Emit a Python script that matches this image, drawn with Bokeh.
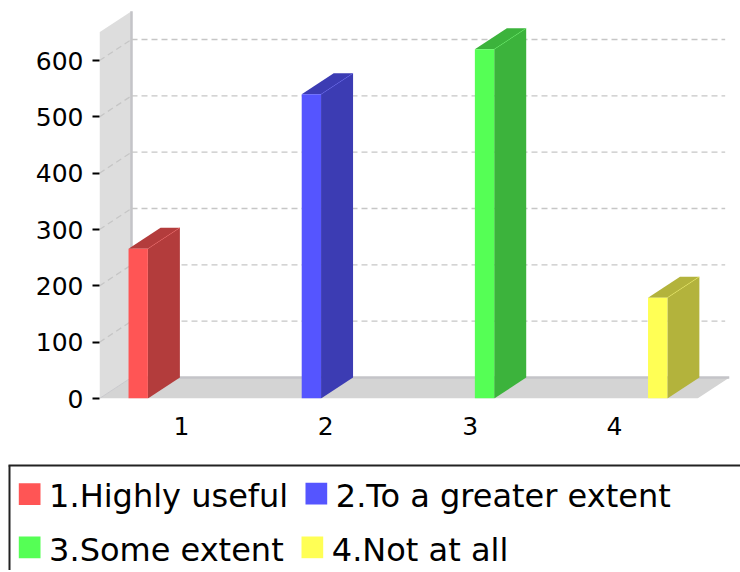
from bokeh.plotting import figure
from bokeh.models import Range1d, FixedTicker
from bokeh.layouts import column
from bokeh.embed import file_html
from bokeh.resources import INLINE
from bokeh.core.properties import value

# ---------------- data ----------------
categories = ["1", "2", "3", "4"]
series_names = ["1.Highly useful", "2.To a greater extent", "3.Some extent", "4.Not at all"]
series_values = [266, 540, 620, 179]          # series i sits in category i
front_colors = ["#FF5555", "#5555FF", "#55FF55", "#FFFF55"]
side_colors = ["#B33C3C", "#3C3CB3", "#3CB33C", "#B3B33C"]
y_ticks = [0, 100, 200, 300, 400, 500, 600]

# ---------------- geometry (styles) ----------------
X0, X1 = 0.4317, 4.7976      # x range of the plot frame
Y1 = 690.6                   # top of the y range
DX, DY = 0.2218, 37.3        # 3D depth offset in data units
BAR_W = 0.134
DODGE = 0.2
WALL_TOP = 650
FONT = "DejaVu Sans"
W = 740


def no_align(fig):
    if "frame_align" in fig.properties():
        fig.frame_align = False


p = figure(width=W, height=455, x_range=Range1d(X0, X1), y_range=Range1d(0, Y1),
           output_backend="svg", toolbar_location=None,
           min_border_left=99, min_border_right=11, min_border_top=9, min_border_bottom=57)
no_align(p)
p.outline_line_color = None
p.grid.visible = False
p.background_fill_color = "white"
p.border_fill_color = "white"

xr_front = X1 - DX
# left wall
p.patch([X0, X0 + DX, X0 + DX, X0], [0, DY, WALL_TOP + DY, WALL_TOP],
        fill_color="#DDDDDD", line_color=None)
# floor
p.patch([X0, xr_front, xr_front + DX, X0 + DX], [0, 0, DY, DY],
        fill_color="#D4D4D4", line_color=None)
# darker back edges of wall and floor
p.segment(x0=[X0 + DX, X0 + DX], y0=[DY, DY], x1=[X0 + DX, X1], y1=[WALL_TOP + DY, DY],
          line_color="#C4C4C8", line_width=2.5)
p.segment(x0=[X0], y0=[0], x1=[X0 + DX], y1=[DY], line_color="#C8C8CC", line_width=1)

# gridlines (back wall + diagonal on side wall)
grid_t = [t for t in y_ticks if t > 0]
p.segment(x0=[X0] * len(grid_t), y0=grid_t, x1=[X0 + DX] * len(grid_t), y1=[t + DY for t in grid_t],
          line_color="#C6C6C6", line_width=1.3, line_dash="6 4")
p.segment(x0=[X0 + DX] * len(grid_t), y0=[t + DY for t in grid_t], x1=[X1 - 0.03] * len(grid_t),
          y1=[t + DY for t in grid_t], line_color="#C6C6C6", line_width=1.3, line_dash="6 4")

# bars
n = len(series_values)
for i, v in enumerate(series_values):
    cat_pos = categories.index(categories[i]) + 1
    xc = cat_pos + (i - (n - 1) / 2) * DODGE
    l, r = xc - BAR_W / 2, xc + BAR_W / 2
    # side face
    p.patch([r, r + DX, r + DX, r], [0, DY, v + DY, v], fill_color=side_colors[i], line_color=None)
    # top face
    p.patch([l, r, r + DX, l + DX], [v, v, v + DY, v + DY], fill_color=side_colors[i], line_color=None)
    # seam between top and side
    p.line([r, r + DX], [v, v + DY], line_color=front_colors[i], line_alpha=0.5, line_width=0.8)
    # front face
    p.quad(left=[l], right=[r], bottom=[0], top=[v], fill_color=front_colors[i], line_color=None)

# axes
p.yaxis.ticker = FixedTicker(ticks=y_ticks)
p.yaxis.axis_line_color = None
p.yaxis.major_tick_out = 7
p.yaxis.major_tick_in = 0
p.yaxis.major_tick_line_width = 2
p.yaxis.major_tick_line_color = "black"
p.yaxis.minor_tick_line_color = None
p.yaxis.major_label_text_font = FONT
p.yaxis.major_label_text_font_size = "25px"
p.yaxis.major_label_text_color = "black"
p.yaxis.major_label_standoff = 9

p.xaxis.ticker = FixedTicker(ticks=[i + 1 for i in range(len(categories))])
p.xaxis.major_label_overrides = {i + 1: c for i, c in enumerate(categories)}
p.xaxis.axis_line_color = None
p.xaxis.major_tick_line_color = None
p.xaxis.minor_tick_line_color = None
p.xaxis.major_label_text_font = FONT
p.xaxis.major_label_text_font_size = "25px"
p.xaxis.major_label_text_color = "black"
p.xaxis.major_label_standoff = 12

# ---------------- legend ----------------
LH = 115
lg = figure(width=W, height=LH, x_range=Range1d(0, W), y_range=Range1d(LH, 0),
            output_backend="svg", toolbar_location=None, x_axis_type=None, y_axis_type=None,
            min_border_left=0, min_border_right=0, min_border_top=0, min_border_bottom=0)
no_align(lg)
lg.outline_line_color = None
lg.grid.visible = False
lg.background_fill_color = "white"
lg.border_fill_color = "white"

# box border (clipped on right and bottom like the original)
lg.segment(x0=[8, 9], y0=[10, 10], x1=[W, 9], y1=[10, LH], line_color="#222222", line_width=2)

item_left = [18.3, 305.0, 18.3, 301.0]
item_top = [27.7, 27.2, 81.0, 81.0]
SQ = 21.7
lg.quad(left=item_left, right=[x + SQ for x in item_left], top=item_top,
        bottom=[y + SQ for y in item_top], fill_color=front_colors, line_color=None)
lg.text(x=[x + 30.3 for x in item_left], y=[y + 13.2 for y in item_top], text=series_names,
        text_font=value(FONT), text_font_size="32px", text_color="black",
        text_baseline="alphabetic", text_align="left")

layout = column(p, lg)
open("out.html", "w").write(file_html(layout, INLINE))
